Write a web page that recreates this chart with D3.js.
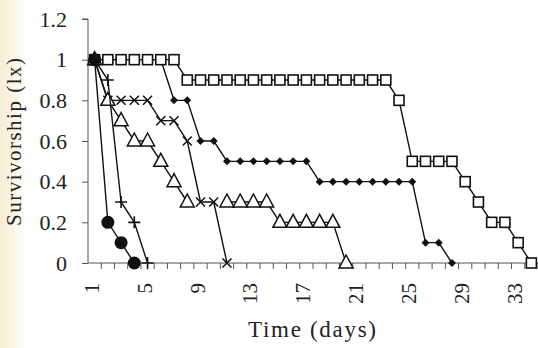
<!DOCTYPE html>
<html>
<head>
<meta charset="utf-8">
<script src="https://cdn.jsdelivr.net/npm/d3@7"></script>
<style>
  html, body { margin: 0; padding: 0; background: #fff; }
  svg { display: block; }
  svg text { font-family: "Liberation Serif", "Times New Roman", Times, serif; fill: #222; }
</style>
</head>
<body>
<svg id="chart" width="538" height="348"></svg>
<script>
// Days on the x axis (one category per day)
const days = [1, 2, 3, 4, 5, 6, 7, 8, 9, 10, 11, 12, 13, 14, 15, 16, 17,
              18, 19, 20, 21, 22, 23, 24, 25, 26, 27, 28, 29, 30, 31, 32, 33, 34];
const xTickLabels = [1, 5, 9, 13, 17, 21, 25, 29, 33];
const yTicks = [0, 0.2, 0.4, 0.6, 0.8, 1, 1.2];

// Survivorship (lx) per day, starting at day 1 (null = no record that day)
const circleSeries = [1, 0.2, 0.1, 0];
const plusSeries = [1, 0.9, 0.3, 0.2, 0];
const triangleSeries = [1, 0.8, 0.7, 0.6, 0.6, 0.5, 0.4, 0.3, null, null, 0.3, 0.3, 0.3, 0.3,
                        0.2, 0.2, 0.2, 0.2, 0.2, 0];
const crossSeries = [1, 0.8, 0.8, 0.8, 0.8, 0.7, 0.7, 0.6, 0.3, 0.3, 0];
const diamondSeries = [1, 1, 1, 1, 1, 1, 0.8, 0.8, 0.6, 0.6,
                       0.5, 0.5, 0.5, 0.5, 0.5, 0.5, 0.5,
                       0.4, 0.4, 0.4, 0.4, 0.4, 0.4, 0.4, 0.4, 0.1, 0.1, 0];
const squareSeries = [1, 1, 1, 1, 1, 1, 1,
                      0.9, 0.9, 0.9, 0.9, 0.9, 0.9, 0.9, 0.9, 0.9, 0.9, 0.9, 0.9, 0.9, 0.9, 0.9, 0.9,
                      0.8, 0.5, 0.5, 0.5, 0.5, 0.4, 0.3, 0.2, 0.2, 0.1, 0];

const svg = d3.select("#chart");
const W = 538, H = 348;
const plotLeft = 88, plotRight = 538, plotBottom = 263, plotTop = 19;
const serif = '"Liberation Serif", "Times New Roman", Times, serif';

// faint warm tint along the left edge of the page
const defs = svg.append("defs");
const grad = defs.append("linearGradient").attr("id", "edge").attr("x1", 0).attr("x2", 1).attr("y1", 0).attr("y2", 0);
grad.append("stop").attr("offset", "0%").attr("stop-color", "#f4eed2");
grad.append("stop").attr("offset", "100%").attr("stop-color", "#ffffff");
svg.append("rect").attr("width", W).attr("height", H).attr("fill", "#fff");
svg.append("rect").attr("width", 28).attr("height", H).attr("fill", "url(#edge)");

const x = d3.scaleBand().domain(days).range([plotLeft, plotRight]);
const cx = d => x(d) + x.bandwidth() / 2;
const y = d3.scaleLinear().domain([0, 1.2]).range([plotBottom, plotTop]);

// y axis
const yAxis = d3.axisLeft(y).tickValues(yTicks).tickSize(6).tickPadding(15)
  .tickFormat(v => (v === 0 || v === 1) ? String(v) : d3.format(".1f")(v));
const gy = svg.append("g").attr("transform", `translate(${plotLeft},0)`).call(yAxis)
  .attr("font-family", serif);
gy.select(".domain").attr("stroke", "#555").attr("d", `M-6,${y(1.2)}H0V${plotBottom}`);
gy.selectAll(".tick line").attr("stroke", "#555");
gy.selectAll(".tick text").attr("font-size", 22).attr("fill", "#222")
  .style("font-family", serif);

// x axis: tick marks sit on category boundaries, labels every 4th day
const gx = svg.append("g").attr("transform", `translate(0,${plotBottom})`);
gx.append("line").attr("x1", plotLeft).attr("x2", plotRight).attr("y1", 0).attr("y2", 0).attr("stroke", "#555");
gx.selectAll("line.tk").data(days).enter().append("line").attr("class", "tk")
  .attr("x1", d => x(d) + x.bandwidth()).attr("x2", d => x(d) + x.bandwidth())
  .attr("y1", 0).attr("y2", 6).attr("stroke", "#555");
gx.selectAll("text.lbl").data(xTickLabels).enter().append("text").attr("class", "lbl")
  .attr("transform", d => `translate(${cx(d) + 4},20) rotate(-90)`)
  .attr("text-anchor", "end").attr("font-size", 21).style("font-family", serif).text(d => d);

// axis titles
svg.append("text").attr("transform", "translate(21,142) rotate(-90)")
  .attr("text-anchor", "middle").attr("font-size", 21).attr("textLength", 168)
  .attr("lengthAdjust", "spacing").style("font-family", serif).text("Survivorship (lx)");
svg.append("text").attr("x", 312).attr("y", 337).attr("text-anchor", "middle")
  .attr("font-size", 23).attr("textLength", 128).attr("lengthAdjust", "spacing")
  .style("font-family", serif).text("Time (days)");

const line = d3.line().defined(v => v !== null).x((v, i) => cx(days[i])).y(v => y(v));
const plot = svg.append("g");

function drawSeries(values, drawMarker) {
  plot.append("path").attr("d", line(values)).attr("fill", "none")
    .attr("stroke", "#111").attr("stroke-width", 1.4);
  const g = plot.append("g");
  values.forEach((v, i) => { if (v !== null) drawMarker(g, cx(days[i]), y(v)); });
}

const mk = {
  square: (g, px, py) => g.append("rect").attr("x", px - 5).attr("y", py - 5)
    .attr("width", 10).attr("height", 10).attr("fill", "#fff").attr("stroke", "#111").attr("stroke-width", 1.6),
  diamond: (g, px, py) => g.append("path")
    .attr("d", `M${px},${py - 4}L${px + 4},${py}L${px},${py + 4}L${px - 4},${py}Z`).attr("fill", "#111"),
  triangle: (g, px, py) => g.append("path")
    .attr("d", `M${px},${py - 8}L${px + 7},${py + 5}L${px - 7},${py + 5}Z`)
    .attr("fill", "#fff").attr("stroke", "#111").attr("stroke-width", 1.5),
  cross: (g, px, py) => g.append("path")
    .attr("d", `M${px - 4.5},${py - 4.5}L${px + 4.5},${py + 4.5}M${px + 4.5},${py - 4.5}L${px - 4.5},${py + 4.5}`)
    .attr("stroke", "#111").attr("stroke-width", 1.5),
  plus: (g, px, py) => g.append("path")
    .attr("d", `M${px - 6},${py}H${px + 6}M${px},${py - 6}V${py + 6}`)
    .attr("stroke", "#111").attr("stroke-width", 1.6),
  circle: (g, px, py) => g.append("circle").attr("cx", px).attr("cy", py).attr("r", 6.5).attr("fill", "#111")
};

// later series sit on top of earlier ones
drawSeries(diamondSeries, mk.diamond);
drawSeries(squareSeries, mk.square);
drawSeries(crossSeries, mk.cross);
drawSeries(triangleSeries, mk.triangle);
drawSeries(plusSeries, mk.plus);
drawSeries(circleSeries, mk.circle);
</script>
</body>
</html>
